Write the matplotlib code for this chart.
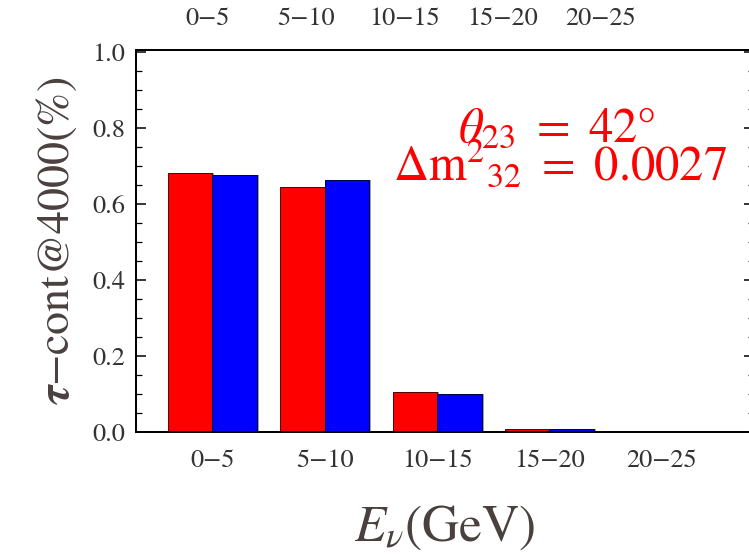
import matplotlib
matplotlib.use("Agg")
import matplotlib.pyplot as plt
import numpy as np

# energy bins and tau-contamination at 4000 km for the two hierarchies
bins = ["0−5", "5−10", "10−15", "15−20", "20−25"]
red_vals = [0.681, 0.645, 0.106, 0.007, 0.0]
blue_vals = [0.675, 0.663, 0.101, 0.007, 0.0]

plt.rcParams["font.family"] = "STIXGeneral"
plt.rcParams["mathtext.fontset"] = "stix"

fig = plt.figure(figsize=(7.49, 5.58), dpi=100)
ax = fig.add_axes([0.1816, 0.2258, 0.825, 0.6846])

x = np.arange(1, len(bins) + 1)
w = 0.397
sh = 0.018  # small offset for the drop shadow

# shadows first, then the bars on top
ax.bar(x - w / 2 + sh, red_vals, w, color="#a0a0a0", linewidth=0, zorder=1)
ax.bar(x + w / 2 + sh, blue_vals, w, color="#a0a0a0", linewidth=0, zorder=1)
ax.bar(x - w / 2, red_vals, w, color="#ff0000", edgecolor="#550000", linewidth=0.7, zorder=2)
ax.bar(x + w / 2, blue_vals, w, color="#0000ff", edgecolor="#000044", linewidth=0.7, zorder=2)

ax.set_xlim(0.32, 5.82)
ax.set_ylim(0, 1.005)

ax.set_xticks(x)
ax.set_xticklabels(bins)
ax.tick_params(axis="x", length=0, pad=12, labelsize=19, labelcolor="#333333")
ax.set_yticks(np.arange(0, 1.01, 0.2))
ax.set_yticks(np.arange(0, 1.01, 0.05), minor=True)
ax.yaxis.set_major_formatter(matplotlib.ticker.FormatStrFormatter("%.1f"))
ax.tick_params(axis="y", which="major", direction="in", length=7, width=1.1,
               right=True, labelsize=19, labelcolor="#333333", pad=8)
ax.tick_params(axis="y", which="minor", direction="in", length=4, width=0.9, right=True)

# the top frame carries its own, more tightly packed bin labels
top = ax.twiny()
top.set_xlim(ax.get_xlim())
top.set_xticks(0.955 + 0.875 * np.arange(len(bins)))
top.set_xticklabels(bins)
top.tick_params(axis="x", length=0, pad=14, labelsize=19, labelcolor="#333333")

for a in (ax, top):
    for s in a.spines.values():
        s.set_linewidth(1.3)

ax.set_ylabel(r"$\boldsymbol{\tau}$−cont@4000(%)", fontsize=33, color="#4a4040", labelpad=9)
ax.set_xlabel(r"$E_{\nu}$(GeV)", fontsize=37, color="#4a4040", labelpad=22)

fig.text(0.744, 0.747, r"$\theta_{23}\ =\ 42°$", color="red", fontsize=35,
         ha="center", va="baseline")
fig.text(0.748, 0.677, r"$\Delta\mathrm{m}^{2}{}_{32}\ =\ 0.0027$", color="red", fontsize=35,
         ha="center", va="baseline")

fig.savefig("out.png", dpi=100)
